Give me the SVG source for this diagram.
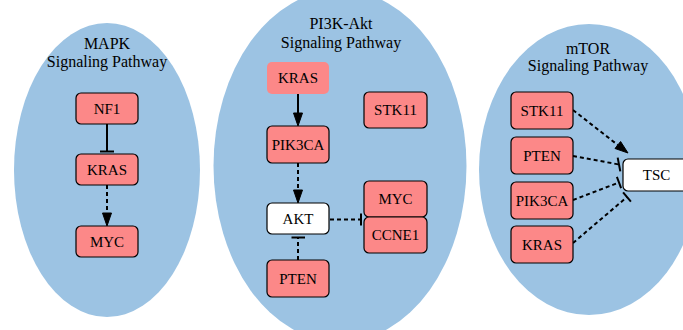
<svg xmlns="http://www.w3.org/2000/svg" width="683" height="330" viewBox="0 0 683 330" font-family="'Liberation Serif', 'DejaVu Serif', serif">
<style>
text{font-family:'Liberation Serif','DejaVu Serif',serif;fill:#000;text-anchor:middle}
.t{font-size:16px}
.n{font-size:15px}
.cl{fill:#9cc3e3}
.box{fill:#fc8888;stroke:#000;stroke-width:1.2}
.wbox{fill:#fff;stroke:#000;stroke-width:1.2}
.nb{fill:#fc8888}
.e{stroke:#000;stroke-width:2;fill:none}
.d{stroke-dasharray:4,3}
.ah{fill:#000;stroke:#000;stroke-width:1}
</style>
<g id="clusters">
<ellipse id="cluster-mapk" class="cl" cx="107" cy="170" rx="93" ry="147"/>
<ellipse id="cluster-pi3k" class="cl" cx="340" cy="166" rx="126.5" ry="176"/>
<ellipse id="cluster-mtor" class="cl" cx="589" cy="169.5" rx="110" ry="145.5"/>
<text class="t" x="107" y="49">MAPK</text>
<text class="t" x="107" y="67">Signaling Pathway</text>
<text class="t" x="341" y="29">PI3K-Akt</text>
<text class="t" x="341" y="48">Signaling Pathway</text>
<text class="t" x="588" y="54">mTOR</text>
<text class="t" x="588" y="71">Signaling Pathway</text>
</g>
<g id="connectors">
<line class="e" x1="107" y1="124" x2="107" y2="151.5"/>
<line class="e" x1="100" y1="151.5" x2="114" y2="151.5"/>
<line class="e d" x1="107" y1="185" x2="107" y2="213"/>
<polygon class="ah" points="107,226 102.5,213 111.5,213"/>
<line class="e" x1="298" y1="94" x2="298" y2="113"/>
<polygon class="ah" points="298,126 293.5,113 302.5,113"/>
<line class="e d" x1="298" y1="163" x2="298" y2="190"/>
<polygon class="ah" points="298,203 293.5,190 302.5,190"/>
<line class="e d" x1="330" y1="219.5" x2="361" y2="219.5"/>
<line class="e" x1="361" y1="213.5" x2="361" y2="225.5"/>
<line class="e d" x1="298" y1="260" x2="298" y2="238"/>
<line class="e" x1="291.5" y1="237.5" x2="305" y2="237.5"/>
<line class="e d" x1="573" y1="110" x2="617.8" y2="145"/>
<polygon class="ah" points="628,153 615,148.5 620.6,141.5"/>
<line class="e d" x1="573" y1="156" x2="619" y2="164.5"/>
<line class="e" x1="617.7" y1="157.6" x2="620.3" y2="171.4"/>
<line class="e d" x1="573" y1="200" x2="619" y2="182.5"/>
<line class="e" x1="616.9" y1="176.9" x2="621.1" y2="188.1"/>
<line class="e d" x1="573" y1="243" x2="627" y2="197"/>
<line class="e" x1="623.1" y1="192.4" x2="630.9" y2="201.6"/>
</g>
<g id="mapk-nf1"><rect class="box" x="76" y="93" width="62" height="31" rx="5"/><text class="n" x="107" y="113.5">NF1</text></g>
<g id="mapk-kras"><rect class="box" x="76" y="154" width="62" height="31" rx="5"/><text class="n" x="107" y="174.5">KRAS</text></g>
<g id="mapk-myc"><rect class="box" x="76" y="226" width="62" height="31" rx="5"/><text class="n" x="107" y="246.5">MYC</text></g>
<g id="pi3k-kras"><rect class="nb" x="267" y="62" width="62" height="32" rx="5"/><text class="n" x="298" y="83">KRAS</text></g>
<g id="pi3k-pik3ca"><rect class="box" x="267" y="126" width="62" height="37" rx="5"/><text class="n" x="298" y="149.5">PIK3CA</text></g>
<g id="pi3k-akt"><rect class="wbox" x="267" y="203" width="62" height="31" rx="5"/><text class="n" x="298" y="223.5">AKT</text></g>
<g id="pi3k-pten"><rect class="box" x="267" y="260" width="62" height="37" rx="5"/><text class="n" x="298" y="283.5">PTEN</text></g>
<g id="pi3k-stk11"><rect class="box" x="364" y="92" width="63" height="36" rx="5"/><text class="n" x="395.5" y="115">STK11</text></g>
<g id="pi3k-myc"><rect class="box" x="364" y="181" width="63" height="36" rx="5"/><text class="n" x="395.5" y="204">MYC</text></g>
<g id="pi3k-ccne1"><rect class="box" x="364" y="217" width="63" height="36" rx="5"/><text class="n" x="395.5" y="240">CCNE1</text></g>
<g id="mtor-stk11"><rect class="box" x="511" y="92" width="62" height="37" rx="5"/><text class="n" x="542" y="115.5">STK11</text></g>
<g id="mtor-pten"><rect class="box" x="511" y="137" width="62" height="37" rx="5"/><text class="n" x="542" y="160.5">PTEN</text></g>
<g id="mtor-pik3ca"><rect class="box" x="511" y="182" width="62" height="37" rx="5"/><text class="n" x="542" y="205.5">PIK3CA</text></g>
<g id="mtor-kras"><rect class="box" x="511" y="226" width="62" height="37" rx="5"/><text class="n" x="542" y="249.5">KRAS</text></g>
<g id="mtor-tsc"><rect class="wbox" x="623" y="159" width="67" height="32" rx="5"/><text class="n" x="656.5" y="180">TSC</text></g>
</svg>
